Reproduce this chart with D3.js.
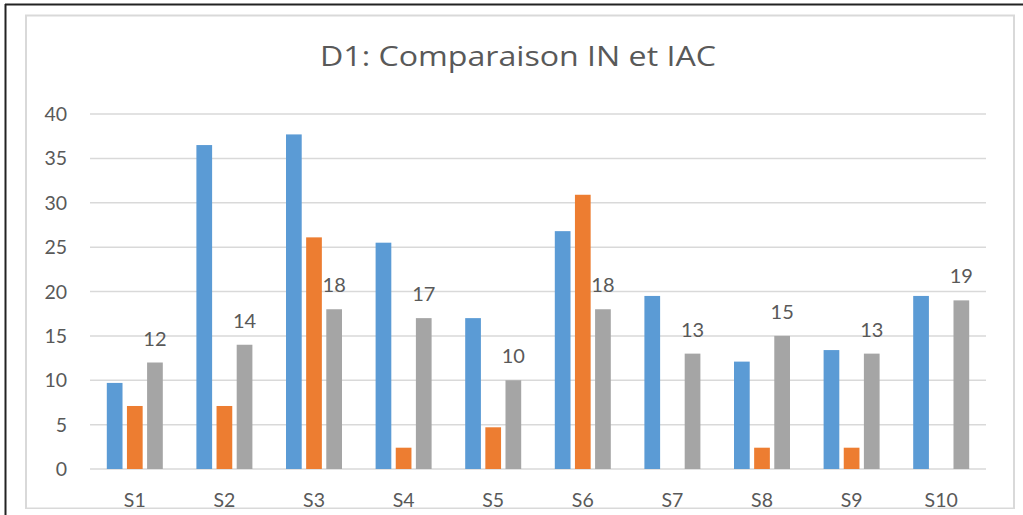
<!DOCTYPE html>
<html>
<head>
<meta charset="utf-8">
<script src="https://cdn.jsdelivr.net/npm/d3@7/dist/d3.min.js"></script>
<style>
html,body{margin:0;padding:0;background:#fff;}
svg{display:block;}
text{font-family:Lato,"Open Sans",sans-serif;fill:#595959;}
</style>
</head>
<body>
<svg id="chart" width="1023" height="515"></svg>
<script>
const categories = ["S1","S2","S3","S4","S5","S6","S7","S8","S9","S10"];
const seriesNames = ["IN","IAC","Note"];
const seriesBlue = [9.7, 36.5, 37.7, 25.5, 17.0, 26.8, 19.5, 12.1, 13.4, 19.5];
const seriesOrange = [7.1, 7.1, 26.1, 2.4, 4.7, 30.9, 0, 2.4, 2.4, 0];
const seriesGray = [12, 14, 18, 17, 10, 18, 13, 15, 13, 19];
const yTicks = [0,5,10,15,20,25,30,35,40];
const colors = ["#5B9BD5","#ED7D31","#A5A5A5"];
const title = "D1: Comparaison IN et IAC";

const svg = d3.select("#chart");
const W = 1023, H = 515;

// outer black frame (top & left visible)
svg.append("line").attr("x1",5).attr("x2",W).attr("y1",4.5).attr("y2",4.5).attr("stroke","#222").attr("stroke-width",2);
svg.append("line").attr("x1",5.5).attr("x2",5.5).attr("y1",4).attr("y2",H).attr("stroke","#222").attr("stroke-width",2);

// chart area frame
svg.append("rect").attr("x",26).attr("y",15.5).attr("width",988).attr("height",493)
  .attr("fill","none").attr("stroke","#D9D9D9").attr("stroke-width",2);
// cover bottom edge (frame continues below the visible area)
svg.append("rect").attr("x",20).attr("y",509).attr("width",1000).attr("height",10).attr("fill","#fff");

const plot = {left:90, right:986, top:114, bottom:469};

const x0 = d3.scaleBand().domain(categories).range([plot.left, plot.right]).paddingInner(0.375).paddingOuter(0.1875);
const x1 = d3.scaleBand().domain(d3.range(3)).range([0, x0.bandwidth()]).paddingInner(0.22);
const y = d3.scaleLinear().domain([0,40]).range([plot.bottom, plot.top]);

// gridlines
svg.append("g").selectAll("line").data(yTicks).join("line")
  .attr("x1",plot.left).attr("x2",plot.right)
  .attr("y1",d=>y(d)).attr("y2",d=>y(d))
  .attr("stroke","#D9D9D9").attr("stroke-width",1.5);

// y tick labels
svg.append("g").selectAll("text").data(yTicks).join("text")
  .attr("x",67).attr("y",d=>y(d)).attr("dy","0.36em")
  .attr("text-anchor","end").style("font-size","19.5px")
  .text(d=>d);

// x labels
svg.append("g").selectAll("text").data(categories).join("text")
  .attr("x",d=>x0(d)+x0.bandwidth()/2).attr("y",507)
  .attr("text-anchor","middle").style("font-size","19.5px")
  .text(d=>d);

const all = [seriesBlue, seriesOrange, seriesGray];
const rows = [];
categories.forEach((c,i)=>{ all.forEach((s,k)=>rows.push({c, k, v:s[i]})); });

svg.append("g").selectAll("rect").data(rows.filter(r=>r.v>0)).join("rect")
  .attr("x",d=>x0(d.c)+x1(d.k))
  .attr("width",x1.bandwidth())
  .attr("y",d=>y(d.v))
  .attr("height",d=>y(0)-y(d.v))
  .attr("fill",d=>colors[d.k]);

// data labels on gray series
svg.append("g").selectAll("text").data(categories).join("text")
  .attr("x",(d)=>x0(d)+x1(2)+x1.bandwidth()/2)
  .attr("y",(d,i)=>y(seriesGray[i]) - 17)
  .attr("text-anchor","middle").style("font-size","20px")
  .text((d,i)=>seriesGray[i]);

// title
svg.append("text").attr("x",518).attr("y",66).attr("text-anchor","middle")
  .style("font-family","'Open Sans',Lato,sans-serif")
  .style("font-size","27px")
  .attr("textLength",396).attr("lengthAdjust","spacingAndGlyphs")
  .text(title);
</script>
</body>
</html>
